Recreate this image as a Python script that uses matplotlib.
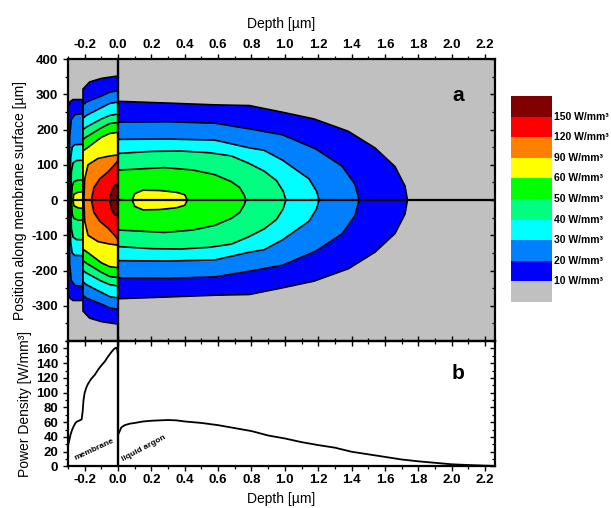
import numpy as np
import matplotlib
matplotlib.use("Agg")
import matplotlib.pyplot as plt
from matplotlib.ticker import MultipleLocator

plt.rcParams['font.family'] = ['Liberation Sans', 'DejaVu Sans']
plt.rcParams['axes.unicode_minus'] = False

# ---------------- data ----------------
levels = [10, 20, 30, 40, 50, 60, 90, 120, 150]
level_colors = ['#0000FF', '#0080FF', '#00FFFF', '#00FF80', '#00FF00',
                '#FFFF00', '#FF8000', '#FF0000', '#800000']
bg_color = '#C0C0C0'
legend_labels = ['10 W/mm³', '20 W/mm³', '30 W/mm³', '40 W/mm³', '50 W/mm³',
                 '60 W/mm³', '90 W/mm³', '120 W/mm³', '150 W/mm³']

# contour half-widths (µm along surface) vs depth (µm)
# membrane, outer sub-layer
memA_x = {
    10: [-0.30, -0.29, -0.27, -0.21],
    20: [-0.292, -0.29, -0.28, -0.26, -0.21],
    30: [-0.287, -0.284, -0.275, -0.26, -0.21],
    40: [-0.283, -0.28, -0.27, -0.25, -0.21],
    50: [-0.279, -0.275, -0.265, -0.24, -0.21],
    60: [-0.27, -0.265, -0.24, -0.21],
}
memA_h = {
    10: [262, 278, 285, 285],
    20: [0, 180, 228, 242, 245],
    30: [0, 120, 150, 157, 158],
    40: [0, 80, 105, 112, 113],
    50: [0, 40, 52, 57, 57],
    60: [0, 16, 22, 24],
}
# membrane, inner sub-layer
memB_x = {
    10: [-0.21, -0.2, -0.17, -0.1, 0.0],
    20: [-0.21, -0.19, -0.1, -0.05, 0.0],
    30: [-0.21, -0.19, -0.1, -0.05, 0.0],
    40: [-0.21, -0.19, -0.1, -0.05, 0.0],
    50: [-0.21, -0.19, -0.1, -0.05, 0.0],
    60: [-0.21, -0.19, -0.1, -0.05, 0.0],
    90: [-0.205, -0.2, -0.18, -0.12, -0.05, 0.0],
    120: [-0.16, -0.145, -0.11, -0.06, -0.03, 0.0],
    150: [-0.05, -0.04, -0.02, 0.0],
}
memB_h = {
    10: [315, 320, 335, 345, 352],
    20: [270, 278, 295, 306, 310],
    30: [232, 240, 262, 274, 278],
    40: [200, 207, 230, 240, 244],
    50: [172, 179, 205, 217, 220],
    60: [140, 146, 178, 189, 192],
    90: [0, 60, 100, 118, 125, 128],
    120: [0, 35, 60, 80, 95, 112],
    150: [0, 25, 42, 45],
}
# liquid argon
arg_x = {
    10: [0.0, 0.3, 0.58, 0.787, 0.976, 1.175, 1.38, 1.54, 1.66, 1.72, 1.735],
    20: [0.0, 0.3, 0.58, 0.787, 0.986, 1.185, 1.343, 1.42, 1.445],
    30: [0.0, 0.3, 0.58, 0.787, 0.876, 0.986, 1.07, 1.145, 1.19, 1.205],
    40: [0.0, 0.2, 0.38, 0.55, 0.68, 0.78, 0.876, 0.95, 0.99, 1.006],
    50: [0.0, 0.28, 0.45, 0.58, 0.68, 0.73, 0.755, 0.767],
    60: [0.085, 0.1, 0.15, 0.25, 0.35, 0.4, 0.415],
}
arg_h = {
    10: [280, 275, 270, 268, 250, 230, 195, 148, 95, 40, 0],
    20: [221, 222, 218, 202, 185, 145, 96, 45, 0],
    30: [172, 173, 170, 148, 141, 113, 85, 60, 25, 0],
    40: [132, 138, 139, 134, 125, 105, 82, 55, 25, 0],
    50: [85, 92, 85, 72, 52, 35, 15, 0],
    60: [0, 18, 28, 27, 22, 15, 0],
}

# power density profile along the centre line
pd_depth = [-0.30, -0.295, -0.285, -0.275, -0.265, -0.255, -0.245, -0.235, -0.225,
            -0.218, -0.212, -0.207, -0.20, -0.19, -0.18, -0.16, -0.14, -0.12,
            -0.10, -0.08, -0.06, -0.04, -0.025, -0.012, -0.004, 0.0,
            0.0, 0.01, 0.02, 0.04, 0.07, 0.10, 0.15, 0.20, 0.25, 0.30, 0.35,
            0.40, 0.50, 0.60, 0.70, 0.80, 0.90, 1.00, 1.10, 1.20, 1.30, 1.40,
            1.50, 1.60, 1.70, 1.80, 1.90, 2.00, 2.10, 2.20, 2.26]
pd_value = [28, 33, 43, 50, 55, 59, 61, 62, 63,
            64, 75, 90, 100, 107, 112, 119, 124, 131,
            137, 142, 149, 155, 159, 161, 158, 150,
            43, 48, 53, 56, 58, 59, 61, 62, 62.5, 63, 62.5,
            61, 59, 56, 52, 48, 42, 38, 33, 29, 25.5, 20,
            16.5, 13, 9.5, 7, 5, 3, 2, 1.2, 0.8]

# ---------------- figure ----------------
fig = plt.figure(figsize=(6.11, 5.08), dpi=100)
ax1 = fig.add_axes([0.1113, 0.3287, 0.6989, 0.5551])
ax2 = fig.add_axes([0.1113, 0.0817, 0.6989, 0.2470])
ax2.patch.set_visible(False)

XMIN, XMAX = -0.3, 2.26
ax1.set_facecolor(bg_color)


def draw_region(ax, xs_d, hs_d):
    for lev, col in zip(levels, level_colors):
        if lev not in xs_d:
            continue
        xs = np.array(xs_d[lev], float)
        hs = np.array(hs_d[lev], float)
        px = np.concatenate([xs, xs[::-1]])
        py = np.concatenate([hs, -hs[::-1]])
        ax.fill(px, py, facecolor=col, edgecolor='black', linewidth=1.2, zorder=2)


draw_region(ax1, memA_x, memA_h)
draw_region(ax1, memB_x, memB_h)
draw_region(ax1, arg_x, arg_h)

ax1.axhline(0, color='black', lw=1.6, zorder=4)
ax1.axvline(0, color='black', lw=1.7, zorder=4)
ax1.set_xlim(XMIN, XMAX)
ax1.set_ylim(-400, 400)
ax1.text(2.04, 297, 'a', fontsize=15, fontweight='bold', ha='center', va='center')

ax2.plot(pd_depth, pd_value, color='black', lw=1.3, zorder=3)
ax2.axvline(0, color='black', lw=1.7, zorder=4)
ax2.set_xlim(XMIN, XMAX)
ax2.set_ylim(0, 170)
ax2.text(2.04, 126, 'b', fontsize=15, fontweight='bold', ha='center', va='center')
ax2.text(-0.145, 23, 'membrane', fontsize=6, fontweight='bold', rotation=25,
         ha='center', va='center')
ax2.text(0.155, 25, 'liquid argon', fontsize=6, fontweight='bold', rotation=28,
         ha='center', va='center')

for ax in (ax1, ax2):
    for sp in ax.spines.values():
        sp.set_linewidth(1.6)
        sp.set_zorder(5)
    ax.xaxis.set_major_locator(MultipleLocator(0.2))
    ax.xaxis.set_minor_locator(MultipleLocator(0.1))
    ax.tick_params(axis='both', which='major', length=3.5, width=1.0,
                   direction='out', labelsize=9.5)
    ax.tick_params(axis='both', which='minor', length=2, width=0.9, direction='out')
    ax.tick_params(axis='x', which='both', top=True, bottom=True)

ax1.tick_params(axis='x', which='both', labeltop=True, labelbottom=False, pad=2)
ax1.xaxis.set_label_position('top')
ax1.set_xlabel('Depth [µm]', fontsize=10, labelpad=8)
ax1.yaxis.set_major_locator(MultipleLocator(100))
ax1.yaxis.set_minor_locator(MultipleLocator(50))
ax1.set_yticks([-300, -200, -100, 0, 100, 200, 300, 400])
ax1.set_ylabel('Position along membrane surface [µm]', fontsize=10, labelpad=3)

ax2.yaxis.set_major_locator(MultipleLocator(20))
ax2.yaxis.set_minor_locator(MultipleLocator(10))
ax2.set_yticks([0, 20, 40, 60, 80, 100, 120, 140, 160])
ax2.tick_params(axis='x', which='both', pad=2)
ax2.set_xlabel('Depth [µm]', fontsize=10, labelpad=4)
ax2.set_ylabel('Power Density [W/mm³]', fontsize=10, labelpad=3)

for ax in (ax1, ax2):
    for lab in ax.get_xticklabels() + ax.get_yticklabels():
        lab.set_fontweight('bold')
    tw = ax.twinx()
    tw.set_ylim(ax.get_ylim())
    tw.yaxis.set_major_locator(ax.yaxis.get_major_locator())
    tw.yaxis.set_minor_locator(ax.yaxis.get_minor_locator())
    tw.tick_params(axis='y', which='major', direction='in', length=3.5, width=1.0,
                   labelright=False)
    tw.tick_params(axis='y', which='minor', direction='in', length=2, width=0.9)
    for sp in tw.spines.values():
        sp.set_visible(False)

# ---------------- colour legend ----------------
axl = fig.add_axes([0.8363, 0.4055, 0.0671, 0.4055])
leg_cols = [bg_color] + level_colors
for i, c in enumerate(leg_cols):
    axl.bar(0.5, 1, bottom=i, width=1, color=c, edgecolor='none')
axl.set_xlim(0, 1)
axl.set_ylim(0, len(leg_cols))
axl.axis('off')
for i, lab in enumerate(legend_labels):
    axl.text(1.06, i + 1, lab, fontsize=7.5, fontweight='bold', ha='left',
             va='center', transform=axl.transData, clip_on=False)

fig.savefig('out.png', dpi=100)
